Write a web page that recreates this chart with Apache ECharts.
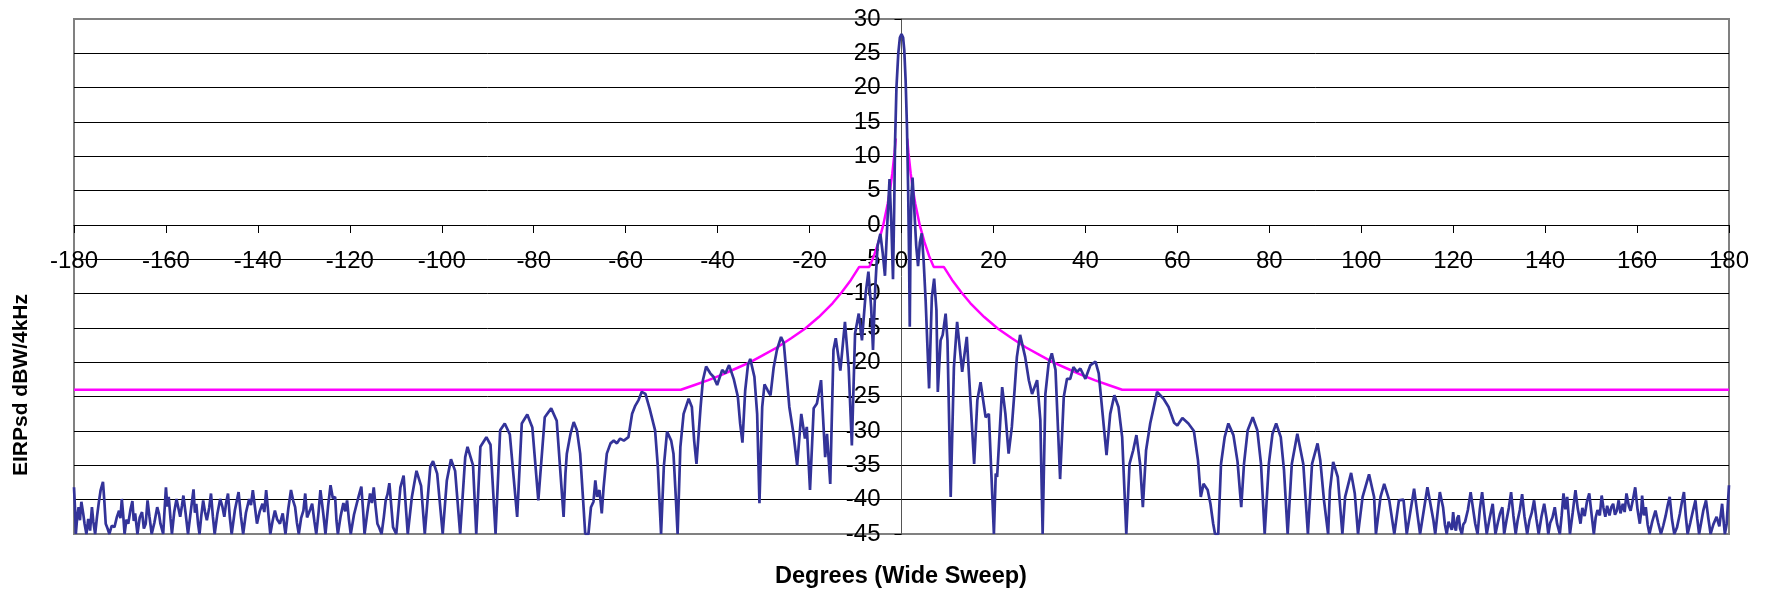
<!DOCTYPE html>
<html>
<head>
<meta charset="utf-8">
<script src="https://cdn.jsdelivr.net/npm/echarts@6/dist/echarts.min.js"></script>
<style>
  html, body { margin: 0; padding: 0; background: #fff; }
  #sweep-chart { width: 1765px; height: 592px; }
</style>
</head>
<body>
<div id="sweep-chart"></div>
<script>
const leftFloorAngles = [
  -180, -179.8, -179.6, -179.3, -179.0, -178.7, -178.4, -178.0, -177.7, -177.3, -176.9, -176.5, -176.1, -175.8, -175.4, -175.0,
  -174.6, -174.2, -173.7, -173.4, -173.1, -172.7, -172.3, -171.8, -171.2, -170.7, -170.2, -169.9, -169.6, -169.3, -169.0, -168.6,
  -168.2, -167.7, -167.3, -167.0, -166.7, -166.2, -165.7, -165.2, -164.8, -164.4, -164.0, -163.6, -163.1, -162.5, -161.9, -161.5,
  -161.2, -160.6, -160.3, -160.0, -159.7, -159.4, -159.0, -158.7, -158.2, -157.7, -157.3, -156.9, -156.5, -156.2, -155.7, -155.2,
  -154.6, -154.0, -153.7, -153.4, -153.0, -152.7, -152.3, -151.9, -151.5, -151.1, -150.6, -150.2, -149.8, -149.4, -148.8, -148.2,
  -147.7, -147.3, -146.9, -146.5, -146.1, -145.7, -145.0, -144.6, -144.2, -143.7, -143.2, -142.6, -141.9, -141.5, -141.1, -140.6,
  -140.2, -139.6, -139.0, -138.6, -138.2, -137.7, -137.3, -136.8, -136.3, -135.8, -135.2, -134.6, -134.0, -133.4, -132.8, -132.3,
  -131.9, -131.5, -131.1, -130.6, -130.1, -129.7, -129.3, -129.0, -128.6, -128.2, -127.7, -127.3, -126.8, -126.4, -125.8, -125.3,
  -124.7, -124.2, -123.7, -123.2, -122.9, -122.6, -122.0, -121.4, -121.0, -120.6, -120.2, -119.8, -119.1, -118.5, -118.0, -117.5,
  -117.1, -116.8, -116.2, -115.6, -115.2, -114.8, -114.4, -114.0, -113.6, -113.1, -112.6, -112.2, -111.8, -111.4, -111.0, -110.6,
  -110.2, -109.9
];
const leftFloorLevels = [
  -38.2, -41, -45, -42.5, -41.1, -43, -40.3, -42, -43.5, -45, -42.8, -44.5, -41.1, -43.2, -45, -42.5,
  -40.4, -38.6, -37.4, -40.2, -43.5, -44.2, -45, -43.8, -44, -42.6, -41.6, -42.7, -39.9, -42.2, -45, -42.9,
  -43.5, -41.4, -40.2, -43.1, -42.0, -45, -42.6, -41.8, -44.2, -43.5, -40.1, -42.4, -45, -43.3, -41.1, -42.1,
  -43.5, -45, -41.5, -38.2, -41.0, -39.6, -42.8, -45, -41.8, -39.9, -41.2, -42.5, -40.8, -39.4, -42.1, -45,
  -41.7, -38.5, -41.9, -40.6, -43.6, -45, -42.3, -40.1, -41.8, -43.0, -41.2, -39.1, -42.4, -45, -42.0, -39.9,
  -41.1, -42.5, -40.4, -39.1, -42.6, -45, -41.5, -40.2, -38.9, -42.4, -45, -41.9, -39.9, -40.8, -38.6, -41.3,
  -43.5, -41.7, -40.6, -41.8, -38.6, -42.2, -45, -43.1, -41.6, -42.9, -43.5, -42.0, -45, -41.4, -38.6, -40.2,
  -41.1, -43.4, -45, -42.7, -41.6, -39.1, -42.6, -42.5, -41.4, -40.6, -43.2, -45, -41.8, -38.6, -41.9, -45,
  -40.8, -37.9, -39.8, -39.6, -43.1, -45, -42.4, -40.5, -41.7, -40.1, -42.9, -45, -42.2, -40.6, -39.3, -38.1,
  -41.7, -45, -41.9, -39.1, -40.5, -38.2, -41.0, -43.5, -44.1, -45, -42.5, -40.1, -39.2, -37.6, -40.8, -44,
  -44.6, -45
];

const centreAngles = [
  -109.0, -108.3, -107.4, -106.5, -105.5, -104.5, -103.7, -102.5, -101.9, -101.0, -99.8, -98.9, -98.0,
  -97.1, -96.0, -94.9, -94.4, -93.2, -92.5, -91.6, -90.3, -89.4, -88.3, -87.3, -86.3, -85.2, -83.6, -82.6, -81.4,
  -80.3, -79.0, -77.6, -76.2, -75.0, -73.5, -73.1, -72.8, -72.0, -71.3, -70.6, -69.9, -69.3, -68.8, -68.1, -67.55,
  -67.0, -66.6, -66.2, -65.7, -65.2, -64.8, -64.1, -63.3, -62.6, -61.9, -61.2, -60.4, -59.4, -58.6, -57.9, -57.2,
  -56.5, -55.7, -54.8, -53.6, -53.0, -52.3, -51.7, -51.0, -50.1, -49.6, -49.1, -48.7, -48.1, -47.4, -46.3, -45.6,
  -45.1, -44.6, -43.7, -43.2, -42.5, -41.6, -40.9, -40.1, -39.0, -38.3, -37.5, -36.5, -35.6, -35.1, -34.6, -34.0,
  -33.4, -32.9, -32.0, -31.4, -30.9, -30.3, -29.8, -29.1, -28.5, -27.8, -27.1, -26.2, -25.6, -24.9, -24.4, -23.5,
  -22.7, -21.8, -21.0, -20.6, -19.9, -19.1, -18.4, -17.5, -16.6, -16.2, -15.5, -14.8, -14.3, -13.3, -12.3, -11.5,
  -10.8, -10.1, -9.3, -8.6, -7.8, -7.2, -6.6, -6.2, -5.7, -5.2, -4.6, -4.1, -3.6, -3.1, -2.6, -2.2,
  -1.85, -1.6, -1.4, -1.1, -0.7, -0.35, 0, 0.35, 0.6, 0.9, 1.2, 1.45, 1.65, 1.8, 1.95, 2.15,
  2.4, 2.8, 3.2, 3.6, 4.0, 4.4, 4.8, 5.25, 6.0, 6.6, 7.1, 7.6, 7.9, 8.5, 8.96, 9.6,
  10.0, 10.7, 11.4, 12.1, 13.2, 14.2, 15.0, 15.8, 16.5, 17.2, 18.3, 19.0, 20.1, 20.5, 20.8, 21.9,
  22.6, 23.3, 24.0, 24.6, 25.1, 25.8, 26.9, 27.7, 28.4, 29.5, 30.2, 30.7, 31.3, 32.0, 32.7, 33.5,
  34.5, 35.3, 36.0, 36.7, 37.4, 38.2, 38.9, 40.0, 41.1, 42.2, 42.9, 43.6, 44.6, 45.4, 46.3, 47.2,
  48.0, 48.9, 49.6, 50.4, 51.1, 51.9, 52.5, 53.2, 54.1, 55.6, 57.0, 58.1, 59.3, 60.0, 61.1, 62.4,
  63.6, 64.5, 65.1, 65.7, 66.6, 67.2, 67.8, 68.2, 68.9, 69.5, 70.3, 71.1, 72.2, 73.1, 73.9, 74.5,
  75.3, 76.4, 77.4, 78.2, 79.0, 79.9, 80.7, 81.5, 82.5, 83.2, 84.0, 84.9, 86.1, 87.4, 88.4, 89.3,
  90.5, 91.1, 91.9, 92.8, 93.2, 93.9, 94.9, 95.9, 96.5, 97.8, 98.6, 99.3, 100.3, 101.7, 102.8, 103.2,
  104.2, 105.0, 106.1, 107.2, 108.2, 109.2, 109.9, 111.5, 112.3, 112.8, 114.4, 115.7, 116.1, 117.1, 117.8
];
const centreLevels = [
  -38.2, -36.5, -45, -39.6, -35.8, -38, -45, -35.2, -34.4, -36.2, -45, -37.2, -34.1,
  -35.8, -45, -33.8, -32.3, -35.0, -45, -32.3, -30.9, -32.0, -45, -29.9, -28.9, -30.5, -42.5, -28.9, -27.6,
  -29.5, -40.1, -28.0, -26.7, -28.5, -42.5, -36.2, -33.3, -30.4, -28.7, -29.9, -33.3, -39.6, -45, -45, -41.1,
  -40.3, -37.2, -39.6, -38.6, -42.0, -38.2, -33.3, -31.8, -31.4, -31.8, -31.1, -31.4, -30.9, -27.5, -26.3, -25.5,
  -24.3, -24.6, -26.7, -29.9, -35.2, -45, -35.2, -30.1, -31.4, -33.3, -39.6, -45, -32.3, -27.5, -25.3, -26.5,
  -31.4, -34.8, -26.5, -22.6, -20.6, -21.6, -22.1, -23.3, -21.1, -21.6, -20.4, -22.4, -25.0, -28.9, -31.7, -24.1,
  -20.4, -19.5, -22.1, -27.5, -40.5, -26.5, -23.2, -24.1, -24.8, -20.7, -18.2, -16.3, -17.2, -22.6, -26.5, -30.4,
  -35.0, -27.5, -31.1, -29.4, -38.6, -26.7, -26.0, -22.6, -33.8, -30.4, -37.7, -18.2, -16.5, -21.2, -14.1, -20.7,
  -32.1, -15.8, -12.9, -16.8, -10, -6.8, -12, -18.2, -9, -3, -1.3, -4, -7.4, 0, 6.7, 0,
  -7.9, 2, 12, 20, 25, 27.3, 27.8, 27.3, 25.5, 21, 14, 5, -5, -14.8, -3, 4,
  6.9, 2, -3, -6, -2.5, -1.2, -5, -11.0, -23.8, -10.5, -7.8, -12.4, -24.3, -16.8, -16.0, -12.9,
  -16.8, -39.6, -20.7, -14.1, -21.4, -16.3, -25.5, -34.8, -25.5, -22.9, -28.0, -27.5, -45, -36.2, -36.7, -23.6,
  -27.5, -33.3, -29.4, -24, -19.2, -16.0, -19.2, -22.6, -24.6, -22.6, -28.4, -45, -24.6, -20.2, -18.7, -21.1,
  -37.0, -25.0, -22.4, -22.4, -20.7, -21.4, -20.9, -22.4, -20.4, -19.9, -21.6, -26.5, -33.5, -27.5, -24.8, -26.5,
  -30.9, -45, -34.8, -32.8, -30.6, -34.8, -41.1, -32.8, -28.9, -24.3, -25.3, -26.5, -28.8, -29.2, -28.1, -28.9,
  -30.0, -34.3, -39.6, -37.7, -38.6, -40.6, -43.5, -45, -45, -34.8, -30.9, -28.9, -30.6, -34.5, -41.1, -34.8,
  -29.9, -28.0, -29.9, -34.8, -45, -34.8, -30.4, -28.9, -30.9, -35.7, -45, -34.8, -30.4, -34.8, -45, -34.8,
  -31.8, -34.3, -40.1, -45, -38.6, -34.5, -36.7, -45, -39.6, -36.1, -39.1, -45, -39.6, -36.3, -39.6, -45,
  -39.6, -37.7, -40.1, -45, -40.1, -40.0, -45, -38.4, -42.5, -45, -38.2, -43.0, -45, -38.9, -41.1
];

const rightFloorAngles = [
  118.2, 118.6, 119.0, 119.4, 119.7, 120.0, 120.3, 120.6, 120.9, 121.2, 121.5, 121.9, 122.2, 122.6, 123.2, 123.8,
  124.3, 124.8, 125.3, 125.8, 126.3, 126.8, 127.3, 127.9, 128.6, 128.9, 129.2, 129.7, 130.2, 130.7, 131.1, 131.6,
  132.1, 132.6, 133.1, 133.6, 134.0, 134.5, 135.0, 135.5, 136.1, 136.6, 137.1, 137.6, 138.1, 138.6, 139.2, 139.8,
  140.3, 140.7, 141.1, 141.6, 142.1, 142.6, 143.2, 143.6, 144.0, 144.4, 144.8, 145.1, 145.4, 146.0, 146.6, 147.1,
  147.7, 148.1, 148.6, 149.1, 149.6, 150.1, 150.6, 151.0, 151.4, 151.9, 152.3, 152.7, 153.1, 153.5, 154.0, 154.4,
  154.8, 155.2, 155.6, 156.0, 156.4, 156.9, 157.3, 157.7, 158.2, 158.6, 159.1, 159.6, 160.1, 160.6, 160.9, 161.1,
  161.5, 161.9, 162.3, 162.7, 163.3, 164.0, 164.6, 165.2, 165.7, 166.2, 166.7, 167.1, 167.6, 168.1, 168.7, 169.3,
  169.8, 170.2, 170.6, 171.0, 171.6, 172.1, 172.7, 173.1, 173.5, 173.9, 174.4, 175.0, 175.5, 176.0, 176.6, 177.3,
  177.9, 178.5, 178.8, 179.1, 179.5, 180
];
const rightFloorLevels = [
  -43.6, -45, -43.2, -43, -44.4, -41.8, -43.9, -44.5, -42.7, -42.3, -44.2, -45, -43.6, -43.2, -41.5, -38.9,
  -41.2, -43.5, -45, -41.4, -38.9, -42.1, -45, -42.8, -40.6, -42.9, -45, -43.4, -42.0, -41.1, -45, -43.0,
  -41.2, -38.9, -42.3, -45, -43.1, -41.5, -39.2, -42.4, -45, -43.0, -41.9, -40.1, -42.8, -45, -42.5, -40.6,
  -42.7, -45, -43.4, -42.6, -41.1, -43.5, -45, -42.3, -39.1, -41.4, -39.6, -42.2, -45, -41.9, -38.6, -41.3,
  -43.5, -41.2, -42.4, -40.3, -39.1, -42.1, -45, -42.6, -41.5, -42.3, -39.4, -41.2, -42.5, -40.9, -42.3, -41.1,
  -40.6, -42.2, -41.6, -40.1, -42.0, -40.6, -41.8, -39.1, -40.9, -41.6, -40.0, -38.2, -41.4, -43.5, -41.8, -39.4,
  -42.3, -41.1, -43.6, -45, -43.2, -41.6, -43.4, -45, -43.8, -42.4, -40.7, -39.6, -42.9, -45, -44.0, -42.1,
  -40.2, -38.9, -42.4, -45, -43.3, -41.8, -40.1, -42.8, -45, -43.5, -41.6, -40.1, -42.7, -45, -43.6, -42.5,
  -43.9, -40.6, -42.9, -45, -43.5, -37.9
];

// envelope (mask) line, null = no line between the two halves
const maskAngles = [
  -180, -48, -45, -42, -39, -36, -33, -30, -27, -24, -21, -18, -15, -13, -11, -9.2,
  -7, -6, -5, -4, -3, -2.5, -2, -1.5, -1.25, 0, 1.25, 1.5, 2, 2.5, 3, 4,
  5, 6, 7, 9.2, 11, 13, 15, 18, 21, 24, 27, 30, 33, 36, 39, 42,
  45, 48, 180
];
const maskLevels = [
  -24.0, -24.0, -23.3, -22.6, -21.8, -20.9, -20.0, -18.9, -17.8, -16.5, -15.1, -13.4, -11.4, -9.8, -8.0, -6.1,
  -6.1, -4.5, -2.5, -0.1, 3.1, 5.1, 7.5, 10.6, 12.6, null, 12.6, 10.6, 7.5, 5.1, 3.1, -0.1,
  -2.5, -4.5, -6.1, -6.1, -8.0, -9.8, -11.4, -13.4, -15.1, -16.5, -17.8, -18.9, -20.0, -20.9, -21.8, -22.6,
  -23.3, -24.0, -24.0
];

const xMin = -180, xMax = 180, xStep = 20;
const yMin = -45, yMax = 30, yStep = 5;

const sweepAngles = leftFloorAngles.concat(centreAngles, rightFloorAngles);
const sweepLevels = leftFloorLevels.concat(centreLevels, rightFloorLevels);
const sweepData = sweepAngles.map((a, i) => [a, sweepLevels[i]]);
const maskData = maskAngles.map((a, i) => [a, maskLevels[i] === null ? '-' : maskLevels[i]]);

// plot box in px; axes cross at (0, 0) inside it
const gridLeft = 74, gridRight = 36, gridTop = 19, gridBottom = 58;
const plotW = 1765 - gridLeft - gridRight;
const plotH = 592 - gridTop - gridBottom;
const xAxisShift = -plotH * (0 - yMin) / (yMax - yMin);
const yAxisShift = -plotW * (0 - xMin) / (xMax - xMin);

const chart = echarts.init(document.getElementById('sweep-chart'));
chart.setOption({
  animation: false,
  backgroundColor: '#fff',
  textStyle: { fontFamily: 'Liberation Sans, Arial, sans-serif' },
  grid: {
    left: gridLeft, right: gridRight, top: gridTop, bottom: gridBottom,
    show: true, borderColor: '#808080', borderWidth: 2
  },
  xAxis: {
    type: 'value',
    min: xMin, max: xMax, interval: xStep,
    position: 'bottom', offset: xAxisShift,
    axisLine: { onZero: false, lineStyle: { color: '#000', width: 1 } },
    axisTick: { show: true, inside: false, length: 8, lineStyle: { color: '#000' } },
    axisLabel: { color: '#000', fontSize: 24, margin: 24, showMinLabel: true, showMaxLabel: true },
    splitLine: { show: false }
  },
  yAxis: {
    type: 'value',
    min: yMin, max: yMax, interval: yStep,
    position: 'left', offset: yAxisShift,
    axisLine: { onZero: false, lineStyle: { color: '#555', width: 1 } },
    axisTick: { show: true, inside: false, length: 7, lineStyle: { color: '#000' } },
    axisLabel: { color: '#000', fontSize: 24, margin: 21 },
    splitLine: { show: true, showMinLine: false, showMaxLine: false, lineStyle: { color: '#000', width: 1 } }
  },
  graphic: [
    {
      type: 'text', x: 901, y: 577,
      style: { text: 'Degrees (Wide Sweep)', font: 'bold 23.5px Liberation Sans, Arial, sans-serif', fill: '#000', align: 'center', verticalAlign: 'middle' }
    },
    {
      type: 'text', x: 21, y: 385, rotation: Math.PI / 2,
      style: { text: 'EIRPsd dBW/4kHz', font: 'bold 21px Liberation Sans, Arial, sans-serif', fill: '#000', align: 'center', verticalAlign: 'middle' }
    }
  ],
  series: [
    {
      name: 'Mask', type: 'line', data: maskData, showSymbol: false, connectNulls: false,
      lineStyle: { color: '#ff00ff', width: 2.5 }, clip: true
    },
    {
      name: 'EIRPsd', type: 'line', data: sweepData, showSymbol: false,
      lineStyle: { color: '#333399', width: 2.7 }, clip: true
    }
  ]
});
</script>
</body>
</html>
